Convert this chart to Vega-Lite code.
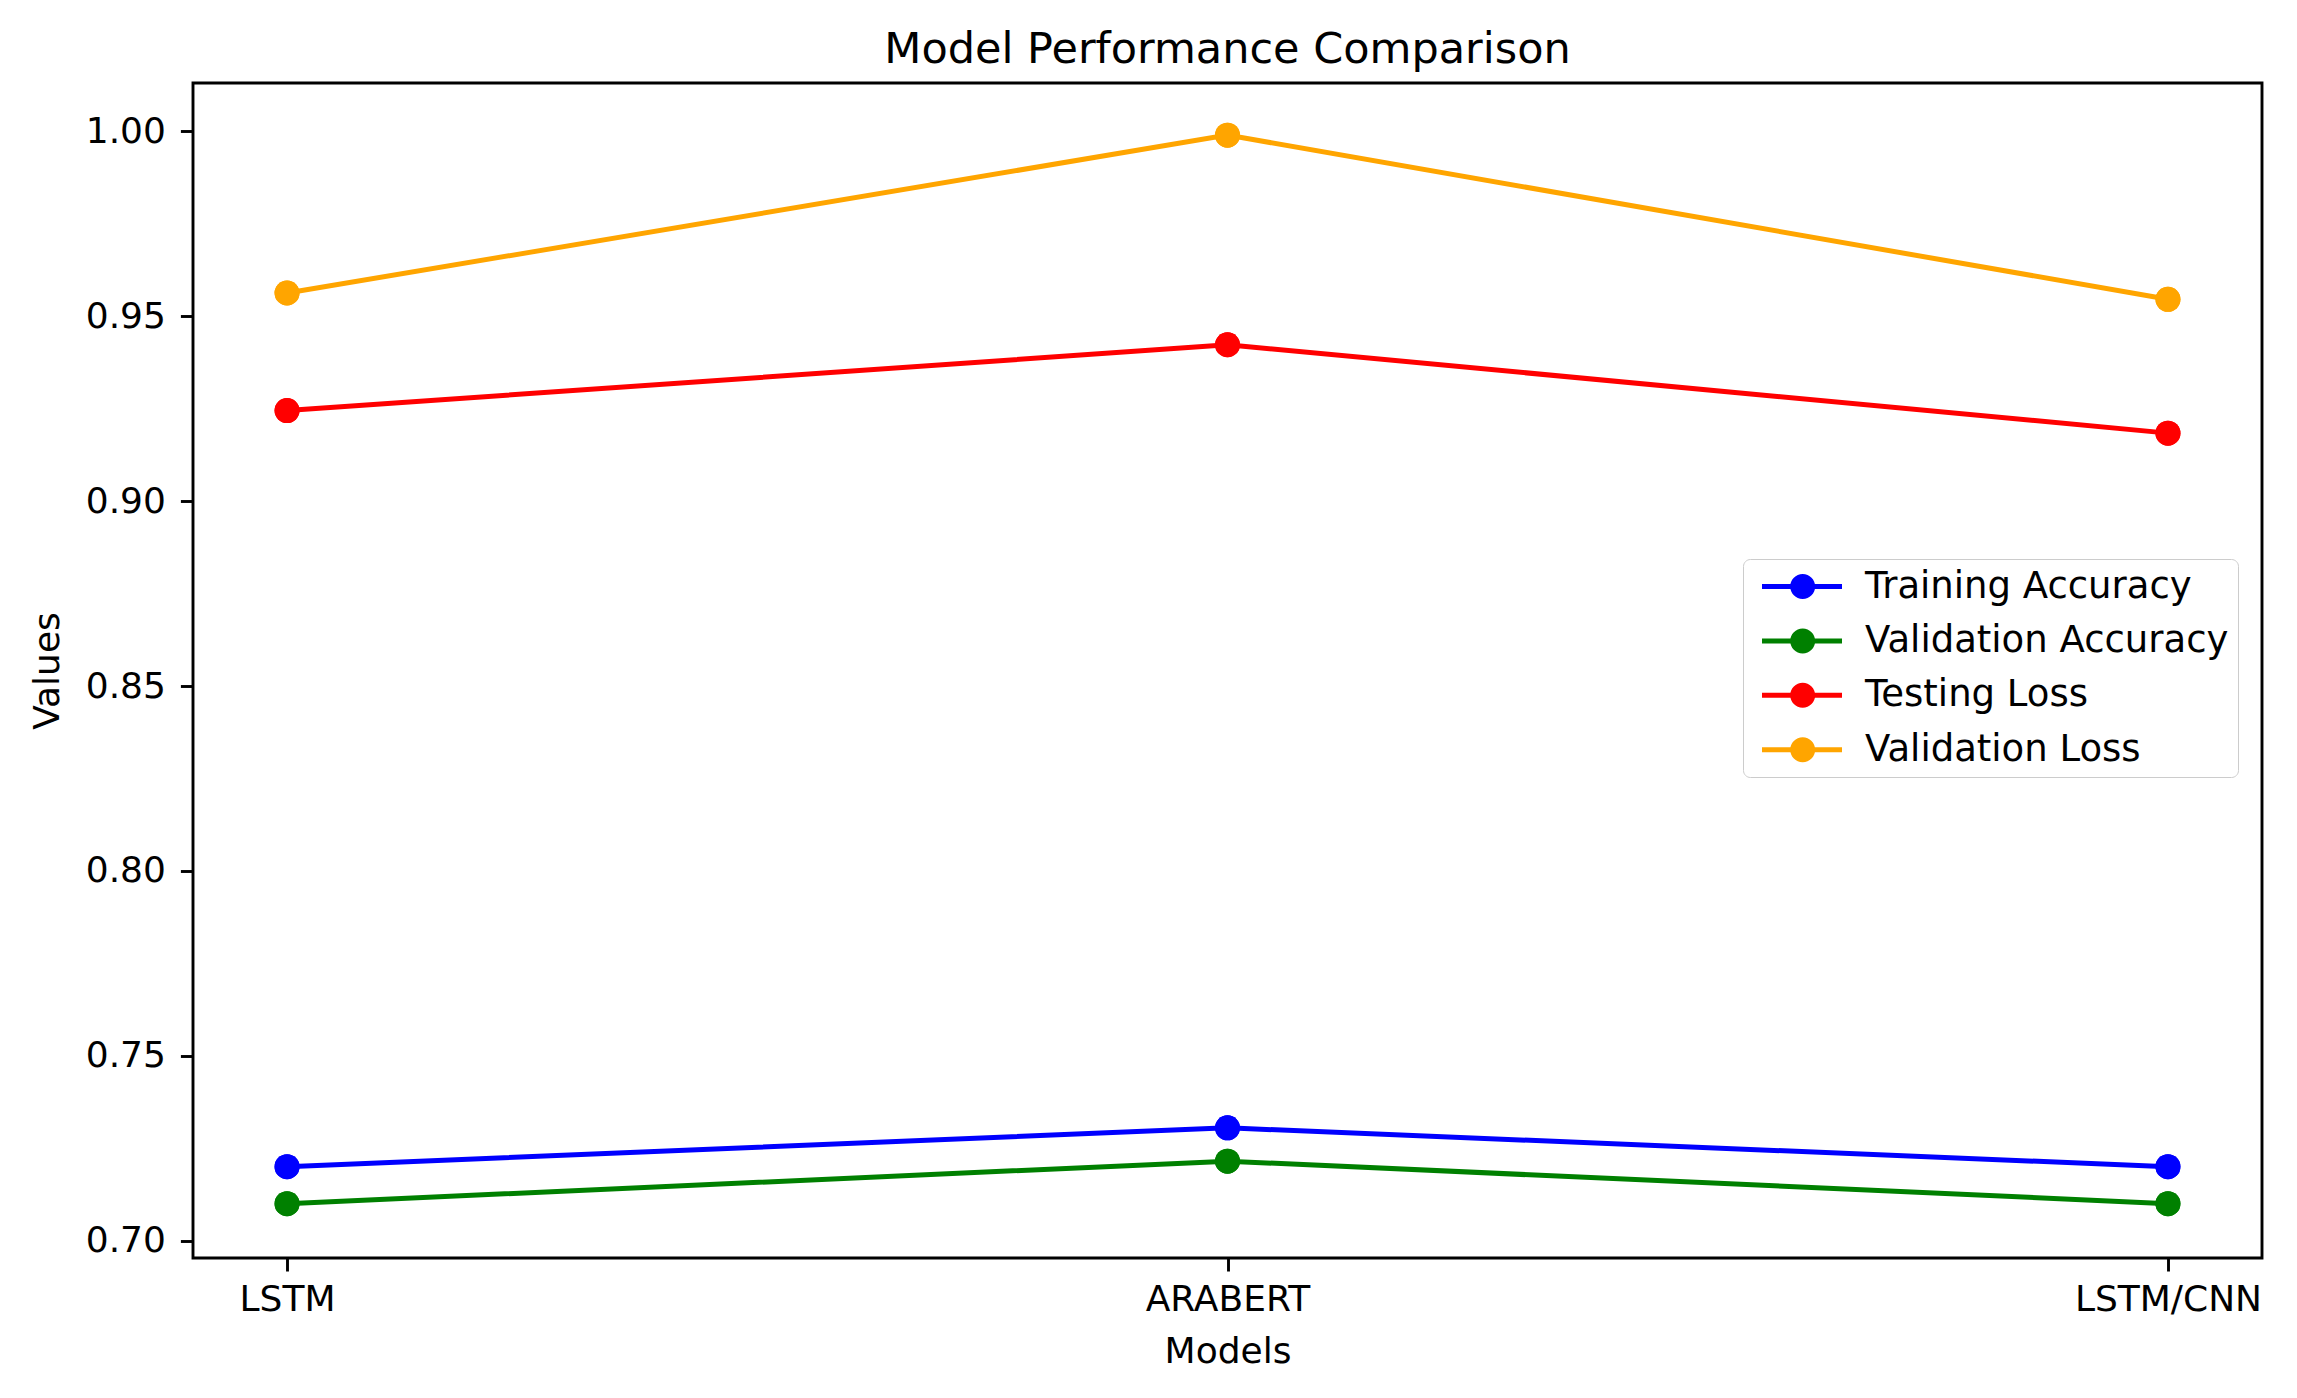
{
  "$schema": "https://vega.github.io/schema/vega-lite/v6.json",
  "width": 2069,
  "height": 1175,
  "autosize": {"type": "none"},
  "padding": {"left": 193, "top": 83, "right": 35, "bottom": 140},
  "background": "white",
  "title": {"text": "Model Performance Comparison", "font": "DejaVu Sans", "fontSize": 43, "fontWeight": "normal", "color": "black", "anchor": "middle", "baseline": "alphabetic", "offset": 21, "dy": 44, "frame": "group"},
  "data": {"values": [
    {"model": "LSTM", "metric": "Training Accuracy", "value": 0.72},
    {"model": "ARABERT", "metric": "Training Accuracy", "value": 0.7305},
    {"model": "LSTM/CNN", "metric": "Training Accuracy", "value": 0.72},
    {"model": "LSTM", "metric": "Validation Accuracy", "value": 0.71},
    {"model": "ARABERT", "metric": "Validation Accuracy", "value": 0.7215},
    {"model": "LSTM/CNN", "metric": "Validation Accuracy", "value": 0.71},
    {"model": "LSTM", "metric": "Testing Loss", "value": 0.9245},
    {"model": "ARABERT", "metric": "Testing Loss", "value": 0.9423},
    {"model": "LSTM/CNN", "metric": "Testing Loss", "value": 0.9184},
    {"model": "LSTM", "metric": "Validation Loss", "value": 0.9563},
    {"model": "ARABERT", "metric": "Validation Loss", "value": 0.999},
    {"model": "LSTM/CNN", "metric": "Validation Loss", "value": 0.9546}
  ]},
  "encoding": {
    "x": {
      "field": "model", "type": "ordinal", "sort": ["LSTM", "ARABERT", "LSTM/CNN"],
      "scale": {"type": "point", "padding": 0.1},
      "axis": {
        "title": "Models", "domain": false, "grid": false,
        "tickColor": "black", "tickWidth": 2.9, "tickSize": 13,
        "labelFont": "DejaVu Sans", "labelFontSize": 36, "labelColor": "black", "labelAngle": 0, "labelLimit": 0,
        "labelBaseline": "alphabetic", "labelPadding": 39, "labelFlush": false, "labelOverlap": false, "labelBound": false,
        "titleFont": "DejaVu Sans", "titleFontSize": 36, "titleFontWeight": "normal", "titleColor": "black",
        "titleX": 1034.5, "titleY": 104, "titleBaseline": "alphabetic", "titleAlign": "center"
      }
    },
    "y": {
      "field": "value", "type": "quantitative",
      "scale": {"domain": [0.6953, 1.0131], "nice": false, "zero": false},
      "axis": {
        "title": "Values", "values": [0.7, 0.75, 0.8, 0.85, 0.9, 0.95, 1.0], "format": ".2f",
        "domain": false, "grid": false,
        "tickColor": "black", "tickWidth": 2.9, "tickSize": 12.6,
        "labelFont": "DejaVu Sans", "labelFontSize": 36, "labelColor": "black",
        "labelPadding": 15, "labelFlush": false, "labelOverlap": false, "labelBound": false,
        "titleFont": "DejaVu Sans", "titleFontSize": 36, "titleFontWeight": "normal", "titleColor": "black",
        "titleX": -135, "titleY": 587.5, "titleAngle": -90, "titleBaseline": "alphabetic", "titleAlign": "center"
      }
    },
    "color": {
      "field": "metric", "type": "nominal",
      "scale": {"domain": ["Training Accuracy", "Validation Accuracy", "Testing Loss", "Validation Loss"], "range": ["#0000ff", "#008000", "#ff0000", "#ffa500"]},
      "legend": {
        "title": null, "orient": "none", "legendX": 1550, "legendY": 476, "zindex": 5,
        "padding": 9, "strokeColor": "#cccccc", "fillColor": "white", "cornerRadius": 7,
        "symbolType": "M-0.68,-0.2H5.72V0.2H-0.68Z M3.576,0A1,1,0,1,1,1.576,0A1,1,0,1,1,3.576,0Z",
        "symbolSize": 625, "symbolStrokeWidth": 0, "symbolOpacity": 1, "symbolFillColor": null,
        "labelFont": "DejaVu Sans", "labelFontSize": 37, "labelColor": "black", "labelOffset": 76, "labelLimit": 0,
        "rowPadding": 16.4
      }
    }
  },
  "layer": [
    {
      "mark": {"type": "point", "filled": true, "shape": "circle", "size": 625, "opacity": 1, "strokeWidth": 0}
    },
    {
      "mark": {"type": "line", "strokeWidth": 5},
      "encoding": {"order": {"value": null}}
    },
    {
      "mark": {"type": "point", "filled": true, "shape": "circle", "size": 625, "opacity": 1, "strokeWidth": 0}
    }
  ],
  "config": {
    "view": {"stroke": "black", "strokeWidth": 2.9}
  }
}
